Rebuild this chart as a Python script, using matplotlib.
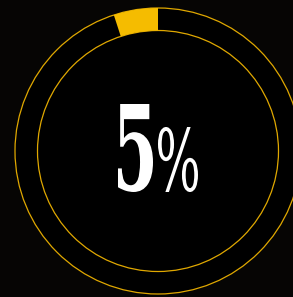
import matplotlib
matplotlib.use("Agg")
import matplotlib.pyplot as plt
from matplotlib.patches import Wedge, Circle, PathPatch
from matplotlib.textpath import TextPath
from matplotlib.font_manager import FontProperties
from matplotlib.transforms import Affine2D

# data
percent = 5
label_number = "5"
label_sign = "%"

W, H = 293, 297
cx, cy = 158, 146
r_out, r_in = 143, 120.5
yellow = "#f5bc00"
line_col = "#e0a800"

fig = plt.figure(figsize=(W / 100, H / 100), dpi=100)
fig.patch.set_facecolor("#060504")
ax = fig.add_axes([0, 0, 1, 1])
ax.set_xlim(0, W)
ax.set_ylim(0, H)
ax.set_aspect("equal")
ax.axis("off")

# black disc with thin rings
ax.add_patch(Circle((cx, cy), r_out, facecolor="black", edgecolor="none"))
ax.add_patch(Circle((cx, cy), r_out, facecolor="none", edgecolor=line_col, lw=0.9))
ax.add_patch(Circle((cx, cy), r_in, facecolor="none", edgecolor=line_col, lw=0.9))

# progress segment, starting at 12 o'clock going counter-clockwise
sweep = percent / 100 * 360
ax.add_patch(Wedge((cx, cy), r_out, 90, 90 + sweep, width=r_out - r_in,
                   facecolor=yellow, edgecolor="none"))


def put_text(s, x0, x1, y0, y1, weight="bold"):
    fp = FontProperties(family="DejaVu Serif", weight=weight)
    tp = TextPath((0, 0), s, size=100, prop=fp)
    ext = tp.get_extents()
    tr = (Affine2D().translate(-ext.x0, -ext.y0)
          .scale((x1 - x0) / ext.width, (y1 - y0) / ext.height)
          .translate(x0, y0))
    ax.add_patch(PathPatch(tr.transform_path(tp), facecolor="white", edgecolor="none"))


# big condensed label
put_text(label_number, 118, 153, H - 192, H - 104)
put_text(label_sign, 158, 198, H - 192, H - 127, weight="normal")

fig.savefig("out.png", dpi=100, facecolor=fig.get_facecolor())
